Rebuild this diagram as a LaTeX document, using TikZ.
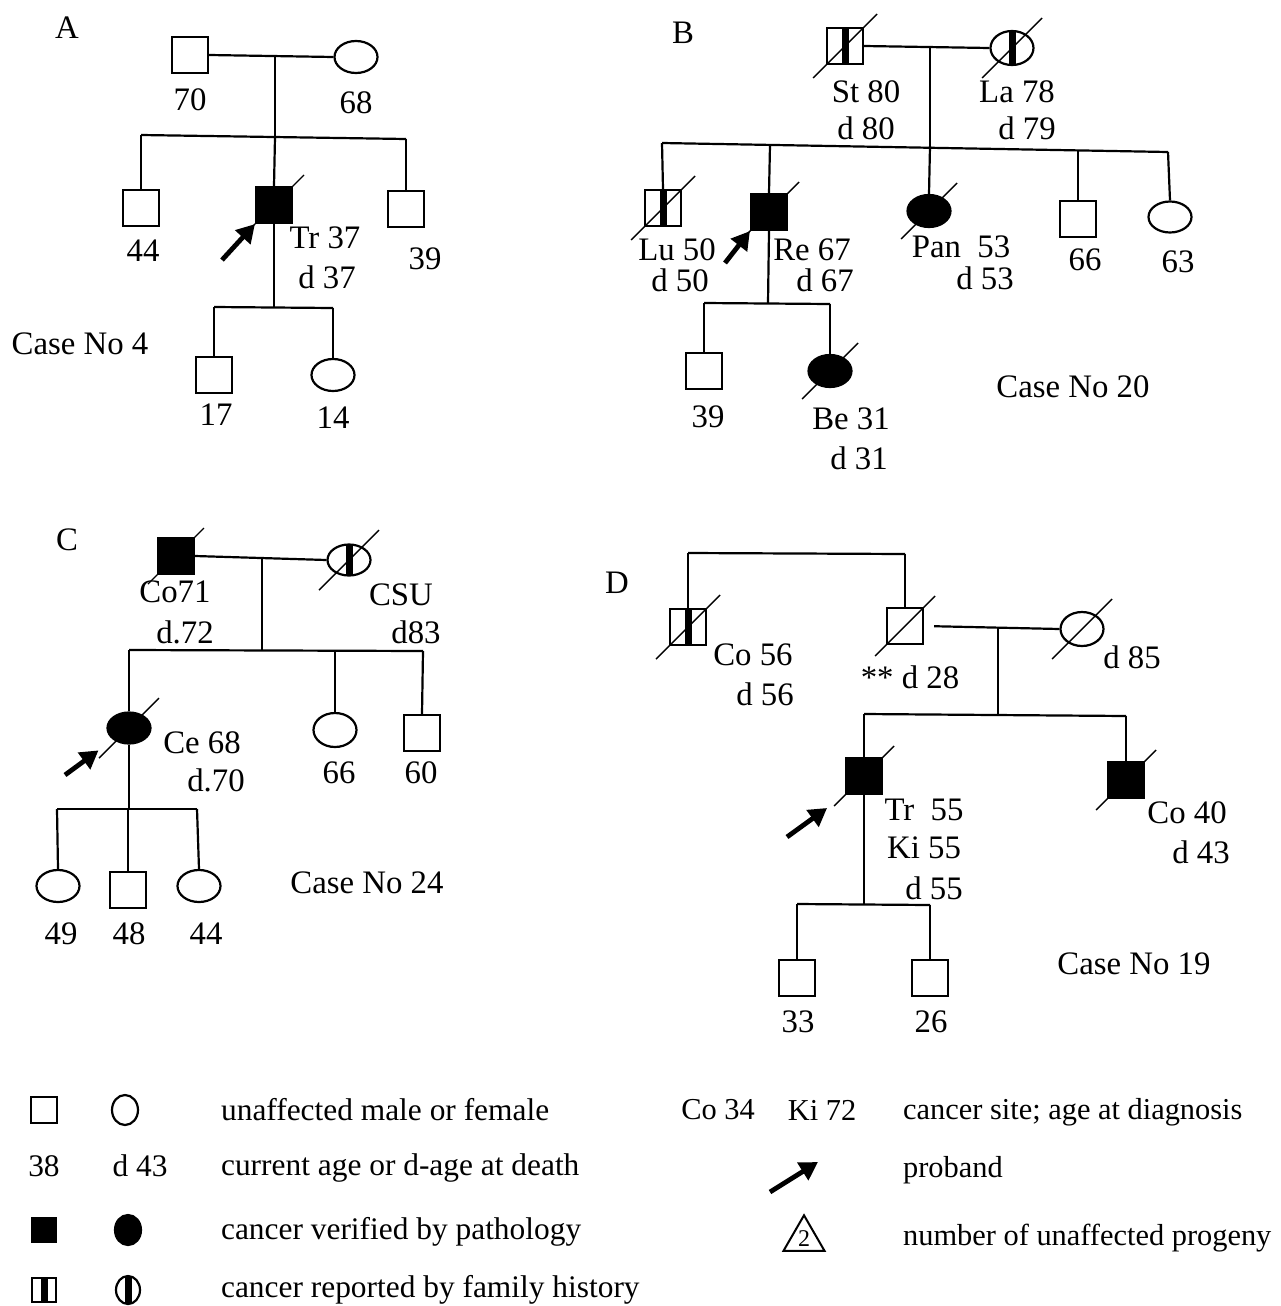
\documentclass[tikz,border=0pt]{standalone}
\usepackage{fontspec}
\setmainfont{Liberation Serif}
\usetikzlibrary{shapes.geometric,arrows.meta,calc}
\newcommand\deadmark[2][30]{\draw[dslash] (#2.center) ++(-#1,#1) -- ++(2*#1,-2*#1);}
\newcommand\famhist[2][36]{\fill (#2.center) ++(-3.5,-#1/2) rectangle ++(7,#1);}
\begin{document}
\begin{tikzpicture}[x=0.5pt,y=-0.5pt,
  line width=1.1pt,
  every node/.style={font=\fontsize{16.4}{19}\selectfont},
  male/.style={draw, rectangle, minimum width=18pt, minimum height=18pt, inner sep=0pt},
  female/.style={draw, ellipse, minimum width=21.5pt, minimum height=16pt, inner sep=0pt},
  aff/.style={fill=black},
  lbl/.style={inner sep=0pt},
  leg/.style={inner sep=0pt, anchor=west, font=\fontsize{15.7}{18}\selectfont},
  legr/.style={inner sep=0pt, anchor=west, font=\fontsize{15.2}{18}\selectfont},
  proband/.style={line width=2.4pt, -{Triangle[length=9pt,width=10pt]}},
  dslash/.style={line width=0.7pt},
]
\useasboundingbox (0,0) rectangle (1280,1306);

% ---------------- Panel A ----------------
\node[lbl] (labA) at (67,28) {A};
\node[male] (a1) at (190,55) {};
\node[female] (a2) at (356,57) {};
\draw (a1.east) -- (a2.west);
\coordinate (a12) at (275,56);
\coordinate (as1) at (275,137);
\coordinate (as1L) at (141,135);
\coordinate (as1R) at (406,139);
\draw (a12) -- (as1);
\draw (as1L) -- (as1R);
\node[male] (a3) at (141,208) {};
\node[male,aff] (a4) at (274,205) {};
\node[male] (a5) at (406,209) {};
\draw (as1L) -- (a3.north);
\draw (as1) -- (a4.north);
\draw (as1R) -- (a5.north);
\deadmark{a4}
\coordinate (as2) at (274,307);
\coordinate (as2L) at (214,307);
\coordinate (as2R) at (333,308);
\draw (a4.south) -- (as2);
\draw (as2L) -- (as2R);
\node[male] (a6) at (214,375) {};
\node[female] (a7) at (333,375) {};
\draw (as2L) -- (a6.north);
\draw (as2R) -- (a7.north);
\coordinate (a4arr) at (222,260);
\draw[proband] (a4arr) -- (a4.south west);
\node[lbl] (ta1) at (190,100) {70};
\node[lbl] (ta2) at (356,103) {68};
\node[lbl] (ta3) at (143,251) {44};
\node[lbl] (ta4) at (325,238) {Tr 37};
\node[lbl] (ta4b) at (327,277) {d 37};
\node[lbl] (ta5) at (425,259) {39};
\node[lbl] (ta6) at (216,415) {17};
\node[lbl] (ta7) at (333,418) {14};
\node[lbl] (caseA) at (80,344) {Case No 4};

% ---------------- Panel B ----------------
\node[lbl] (labB) at (683,33) {B};
\node[male] (b1) at (845,46) {};
\famhist{b1}
\deadmark[32]{b1}
\node[female, minimum height=17pt] (b2) at (1012,48) {};
\famhist[34]{b2}
\deadmark{b2}
\draw (b1.east) -- (b2.west);
\coordinate (b12) at (930,46);
\coordinate (bs1) at (930,146);
\coordinate (bs1L) at (662,143);
\coordinate (bs1R) at (1168,152);
\coordinate (bs1b) at (770,145);
\coordinate (bs1d) at (1078,151);
\draw (b12) -- (bs1);
\draw (bs1L) -- (bs1R);
\node[male] (b3) at (663,208) {};
\famhist{b3}
\deadmark[32]{b3}
\node[male,aff] (b4) at (769,212) {};
\deadmark{b4}
\node[female,aff] (b5) at (929,211) {};
\deadmark[28]{b5}
\node[male] (b6) at (1078,219) {};
\node[female, minimum height=15.5pt] (b7) at (1170,217) {};
\draw (bs1L) -- (b3.north);
\draw (bs1b) -- (b4.north);
\draw (bs1) -- (b5.north);
\draw (bs1d) -- (b6.north);
\draw (bs1R) -- (b7.north);
\coordinate (bs2) at (768,303);
\coordinate (bs2L) at (704,303);
\coordinate (bs2R) at (830,304);
\draw (b4.south) -- (bs2);
\draw (bs2L) -- (bs2R);
\node[male] (b8) at (704,371) {};
\node[female,aff] (b9) at (830,371) {};
\deadmark[28]{b9}
\draw (bs2L) -- (b8.north);
\draw (bs2R) -- (b9.north);
\coordinate (b4arr) at (725,263);
\draw[proband] (b4arr) -- (b4.south west);
\node[lbl] (tb1) at (866,92) {St 80};
\node[lbl] (tb1b) at (866,128) {d 80};
\node[lbl] (tb2) at (1017,92) {La 78};
\node[lbl] (tb2b) at (1027,128) {d 79};
\node[lbl] (tb3) at (677,250) {Lu 50};
\node[lbl] (tb3b) at (680,280) {d 50};
\node[lbl] (tb4) at (812,250) {Re 67};
\node[lbl] (tb4b) at (825,280) {d 67};
\node[lbl] (tb5) at (961,247) {Pan\enspace 53};
\node[lbl] (tb5b) at (985,278) {d 53};
\node[lbl] (tb6) at (1085,260) {66};
\node[lbl] (tb7) at (1178,262) {63};
\node[lbl] (tb8) at (708,417) {39};
\node[lbl] (tb9) at (851,419) {Be 31};
\node[lbl] (tb9b) at (859,458) {d 31};
\node[lbl] (caseB) at (1073,387) {Case No 20};

% ---------------- Panel C ----------------
\node[lbl] (labC) at (67,540) {C};
\node[male,aff] (c1) at (176,556) {};
\deadmark[28]{c1}
\node[female, minimum height=15.5pt] (c2) at (349,560) {};
\famhist[32]{c2}
\deadmark{c2}
\draw (c1.east) -- (c2.west);
\coordinate (c12) at (262,559);
\coordinate (cs1) at (262,650);
\coordinate (cs1L) at (129,650);
\coordinate (cs1M) at (335,650);
\coordinate (cs1R) at (423,651);
\draw (c12) -- (cs1);
\draw (cs1L) -- (cs1R);
\node[female,aff, minimum height=15.5pt] (c3) at (129,728) {};
\deadmark{c3}
\node[female, minimum height=17pt] (c4) at (335,730) {};
\node[male] (c5) at (422,733) {};
\draw (cs1L) -- (c3.north);
\draw (cs1M) -- (c4.north);
\draw (cs1R) -- (c5.north);
\coordinate (cs2) at (129,809);
\coordinate (cs2L) at (57,809);
\coordinate (cs2M) at (128,809);
\coordinate (cs2R) at (197,809);
\draw (c3.south) -- (cs2);
\draw (cs2L) -- (cs2R);
\node[female] (c6) at (58,886) {};
\node[male] (c7) at (128,890) {};
\node[female] (c8) at (199,886) {};
\draw (cs2L) -- (c6.north);
\draw (cs2M) -- (c7.north);
\draw (cs2R) -- (c8.north);
\coordinate (c3arr) at (65,775);
\draw[proband, shorten >=9pt] (c3arr) -- (c3.south west);
\node[lbl] (tc1) at (175,592) {Co71};
\node[lbl] (tc1b) at (185,632) {d.72};
\node[lbl] (tc2) at (401,595) {CSU};
\node[lbl] (tc2b) at (416,632) {d83};
\node[lbl] (tc3) at (202,743) {Ce 68};
\node[lbl] (tc3b) at (216,780) {d.70};
\node[lbl] (tc4) at (339,773) {66};
\node[lbl] (tc5) at (421,773) {60};
\node[lbl] (tc6) at (61,934) {49};
\node[lbl] (tc7) at (129,934) {48};
\node[lbl] (tc8) at (206,934) {44};
\node[lbl] (caseC) at (367,883) {Case No 24};

% ---------------- Panel D ----------------
\node[lbl] (labD) at (617,583) {D};
\coordinate (ds0L) at (688,553);
\coordinate (ds0R) at (905,554);
\draw (ds0L) -- (ds0R);
\node[male] (d1) at (688,627) {};
\famhist{d1}
\deadmark[32]{d1}
\node[male] (d2) at (905,626) {};
\deadmark[30]{d2}
\node[female, minimum height=17pt] (d3) at (1082,629) {};
\deadmark{d3}
\draw (ds0L) -- (d1.north);
\draw (ds0R) -- (d2.north);
\draw[shorten <=5pt] (d2.east) -- (d3.west);
\coordinate (d23) at (998,627);
\coordinate (ds1) at (998,715);
\coordinate (ds1L) at (864,714);
\coordinate (ds1R) at (1126,716);
\draw (d23) -- (ds1);
\draw (ds1L) -- (ds1R);
\node[male,aff] (d4) at (864,776) {};
\deadmark{d4}
\node[male,aff] (d5) at (1126,780) {};
\deadmark{d5}
\draw (ds1L) -- (d4.north);
\draw (ds1R) -- (d5.north);
\coordinate (ds2) at (864,904);
\coordinate (ds2L) at (797,904);
\coordinate (ds2R) at (930,905);
\draw (d4.south) -- (ds2);
\draw (ds2L) -- (ds2R);
\node[male] (d6) at (797,978) {};
\node[male] (d7) at (930,978) {};
\draw (ds2L) -- (d6.north);
\draw (ds2R) -- (d7.north);
\coordinate (d4arr) at (787,837);
\draw[proband, shorten >=11pt] (d4arr) -- (d4.south west);
\node[lbl] (td1) at (753,655) {Co 56};
\node[lbl] (td1b) at (765,694) {d 56};
\node[lbl] (td2) at (910,677) {** d 28};
\node[lbl] (td3) at (1132,657) {d 85};
\node[lbl] (td4) at (924,810) {Tr\enspace 55};
\node[lbl] (td4b) at (924,848) {Ki 55};
\node[lbl] (td4c) at (934,888) {d 55};
\node[lbl] (td5) at (1187,813) {Co 40};
\node[lbl] (td5b) at (1201,852) {d 43};
\node[lbl] (td6) at (798,1022) {33};
\node[lbl] (td7) at (931,1022) {26};
\node[lbl] (caseD) at (1134,964) {Case No 19};

% ---------------- Legend ----------------
\node[male, minimum width=13pt, minimum height=13pt] (l1) at (44,1110) {};
\node[female, minimum width=13pt, minimum height=15pt] (l2) at (125,1110) {};
\node[leg] (lt1) at (220,1110) {unaffected male or female};
\node[lbl, font=\fontsize{15.7}{18}\selectfont] (l3) at (44,1166) {38};
\node[lbl, font=\fontsize{15.7}{18}\selectfont] (l4) at (140,1166) {d 43};
\node[leg] (lt2) at (220,1168) {current age or d-age at death};
\node[male,aff, minimum width=12pt, minimum height=12pt] (l5) at (44,1230) {};
\node[female,aff, minimum width=13pt, minimum height=15pt] (l6) at (128,1230) {};
\node[leg] (lt3) at (220,1232) {cancer verified by pathology};
\node[male, minimum width=12pt, minimum height=12pt] (l7) at (44,1290) {};
\famhist[24]{l7}
\node[female, minimum width=12pt, minimum height=14pt] (l8) at (128,1290) {};
\famhist[28]{l8}
\node[leg] (lt4) at (220,1290) {cancer reported by family history};
\node[lbl, font=\fontsize{15.2}{18}\selectfont] (l9) at (718,1110) {Co 34};
\node[lbl, font=\fontsize{15.2}{18}\selectfont] (l10) at (822,1110) {Ki 72};
\node[legr] (lt5) at (902,1112) {cancer site; age at diagnosis};
\coordinate (larrT) at (770,1192);
\coordinate (larrH) at (818,1162);
\draw[proband] (larrT) -- (larrH);
\node[legr] (lt6) at (902,1170) {proband};
\node[draw, regular polygon, regular polygon sides=3, minimum size=23.7pt, inner sep=0pt, line width=1pt, font=\fontsize{12}{13}\selectfont] (l11) at (804,1239) {2};
\node[legr] (lt7) at (902,1238) {number of unaffected progeny};
\end{tikzpicture}
\end{document}
